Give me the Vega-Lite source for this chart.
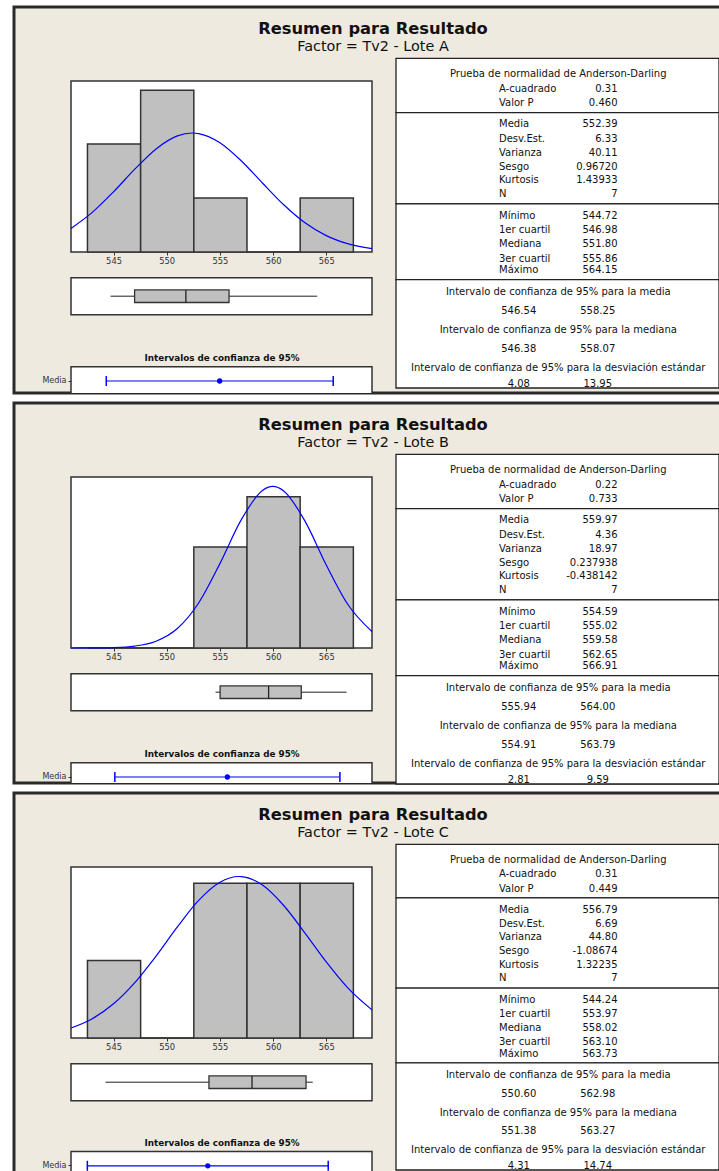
{
  "$schema": "https://vega.github.io/schema/vega-lite/v6.json",
  "description": "Resumen gráfico de Resultado por lote (Factor Tv2): histograma con curva normal ajustada, gráfica de caja, intervalos de confianza de 95% y tabla de estadísticos descriptivos.",
  "background": "white",
  "padding": {"left": 12, "top": 5, "right": 0, "bottom": 0},
  "config": {
    "font": "DejaVu Sans",
    "view": {"fill": "#EEEAE0", "stroke": "#2A2A2A", "strokeWidth": 3}
  },
  "data": {
    "values": [
      {"tipo": "titulo", "lote": "A", "linea": "titulo", "texto": "Resumen para Resultado"},
      {"tipo": "titulo", "lote": "A", "linea": "subtitulo", "texto": "Factor = Tv2 - Lote A"},
      {"tipo": "titulo", "lote": "B", "linea": "titulo", "texto": "Resumen para Resultado"},
      {"tipo": "titulo", "lote": "B", "linea": "subtitulo", "texto": "Factor = Tv2 - Lote B"},
      {"tipo": "titulo", "lote": "C", "linea": "titulo", "texto": "Resumen para Resultado"},
      {"tipo": "titulo", "lote": "C", "linea": "subtitulo", "texto": "Factor = Tv2 - Lote C"},

      {"tipo": "resumen", "lote": "A", "hMin": 541, "hMax": 569.3, "hYMin": 0, "hYMax": 3.17, "min": 544.72, "q1": 546.98, "med": 551.80, "q3": 555.86, "max": 564.15},
      {"tipo": "resumen", "lote": "B", "hMin": 541, "hMax": 569.3, "hYMin": 0, "hYMax": 3.39, "min": 554.59, "q1": 555.02, "med": 559.58, "q3": 562.65, "max": 566.91},
      {"tipo": "resumen", "lote": "C", "hMin": 541, "hMax": 569.3, "hYMin": 0, "hYMax": 2.21, "min": 544.24, "q1": 553.97, "med": 558.02, "q3": 563.10, "max": 563.73},

      {"tipo": "barra", "lote": "A", "desde": 542.5, "hasta": 547.5, "n": 2},
      {"tipo": "barra", "lote": "A", "desde": 547.5, "hasta": 552.5, "n": 3},
      {"tipo": "barra", "lote": "A", "desde": 552.5, "hasta": 557.5, "n": 1},
      {"tipo": "barra", "lote": "A", "desde": 557.5, "hasta": 562.5, "n": 0},
      {"tipo": "barra", "lote": "A", "desde": 562.5, "hasta": 567.5, "n": 1},
      {"tipo": "barra", "lote": "B", "desde": 542.5, "hasta": 547.5, "n": 0},
      {"tipo": "barra", "lote": "B", "desde": 547.5, "hasta": 552.5, "n": 0},
      {"tipo": "barra", "lote": "B", "desde": 552.5, "hasta": 557.5, "n": 2},
      {"tipo": "barra", "lote": "B", "desde": 557.5, "hasta": 562.5, "n": 3},
      {"tipo": "barra", "lote": "B", "desde": 562.5, "hasta": 567.5, "n": 2},
      {"tipo": "barra", "lote": "C", "desde": 542.5, "hasta": 547.5, "n": 1},
      {"tipo": "barra", "lote": "C", "desde": 547.5, "hasta": 552.5, "n": 0},
      {"tipo": "barra", "lote": "C", "desde": 552.5, "hasta": 557.5, "n": 2},
      {"tipo": "barra", "lote": "C", "desde": 557.5, "hasta": 562.5, "n": 2},
      {"tipo": "barra", "lote": "C", "desde": 562.5, "hasta": 567.5, "n": 2},

      {"tipo": "curva", "lote": "A", "xv": 541, "dens": 0.437},
      {"tipo": "curva", "lote": "A", "xv": 543, "dens": 0.734},
      {"tipo": "curva", "lote": "A", "xv": 545, "dens": 1.116},
      {"tipo": "curva", "lote": "A", "xv": 547, "dens": 1.535},
      {"tipo": "curva", "lote": "A", "xv": 549, "dens": 1.911},
      {"tipo": "curva", "lote": "A", "xv": 551, "dens": 2.153},
      {"tipo": "curva", "lote": "A", "xv": 552.39, "dens": 2.206},
      {"tipo": "curva", "lote": "A", "xv": 553, "dens": 2.196},
      {"tipo": "curva", "lote": "A", "xv": 555, "dens": 2.026},
      {"tipo": "curva", "lote": "A", "xv": 557, "dens": 1.692},
      {"tipo": "curva", "lote": "A", "xv": 559, "dens": 1.279},
      {"tipo": "curva", "lote": "A", "xv": 561, "dens": 0.875},
      {"tipo": "curva", "lote": "A", "xv": 563, "dens": 0.541},
      {"tipo": "curva", "lote": "A", "xv": 565, "dens": 0.303},
      {"tipo": "curva", "lote": "A", "xv": 567, "dens": 0.154},
      {"tipo": "curva", "lote": "A", "xv": 569.3, "dens": 0.062},
      {"tipo": "curva", "lote": "B", "xv": 541, "dens": 0.0002},
      {"tipo": "curva", "lote": "B", "xv": 543, "dens": 0.0016},
      {"tipo": "curva", "lote": "B", "xv": 545, "dens": 0.0088},
      {"tipo": "curva", "lote": "B", "xv": 547, "dens": 0.0384},
      {"tipo": "curva", "lote": "B", "xv": 549, "dens": 0.1351},
      {"tipo": "curva", "lote": "B", "xv": 551, "dens": 0.3858},
      {"tipo": "curva", "lote": "B", "xv": 553, "dens": 0.8924},
      {"tipo": "curva", "lote": "B", "xv": 555, "dens": 1.6724},
      {"tipo": "curva", "lote": "B", "xv": 557, "dens": 2.5393},
      {"tipo": "curva", "lote": "B", "xv": 559, "dens": 3.1242},
      {"tipo": "curva", "lote": "B", "xv": 559.97, "dens": 3.2025},
      {"tipo": "curva", "lote": "B", "xv": 561, "dens": 3.1144},
      {"tipo": "curva", "lote": "B", "xv": 563, "dens": 2.5154},
      {"tipo": "curva", "lote": "B", "xv": 565, "dens": 1.6461},
      {"tipo": "curva", "lote": "B", "xv": 567, "dens": 0.8728},
      {"tipo": "curva", "lote": "B", "xv": 569.3, "dens": 0.3244},
      {"tipo": "curva", "lote": "C", "xv": 541, "dens": 0.1288},
      {"tipo": "curva", "lote": "C", "xv": 543, "dens": 0.2494},
      {"tipo": "curva", "lote": "C", "xv": 545, "dens": 0.4417},
      {"tipo": "curva", "lote": "C", "xv": 547, "dens": 0.7154},
      {"tipo": "curva", "lote": "C", "xv": 549, "dens": 1.0596},
      {"tipo": "curva", "lote": "C", "xv": 551, "dens": 1.4352},
      {"tipo": "curva", "lote": "C", "xv": 553, "dens": 1.7778},
      {"tipo": "curva", "lote": "C", "xv": 555, "dens": 2.0138},
      {"tipo": "curva", "lote": "C", "xv": 556.79, "dens": 2.0872},
      {"tipo": "curva", "lote": "C", "xv": 557, "dens": 2.0862},
      {"tipo": "curva", "lote": "C", "xv": 559, "dens": 1.9764},
      {"tipo": "curva", "lote": "C", "xv": 561, "dens": 1.7123},
      {"tipo": "curva", "lote": "C", "xv": 563, "dens": 1.3566},
      {"tipo": "curva", "lote": "C", "xv": 565, "dens": 0.983},
      {"tipo": "curva", "lote": "C", "xv": 567, "dens": 0.6513},
      {"tipo": "curva", "lote": "C", "xv": 569.3, "dens": 0.3633},

      {"tipo": "ic", "lote": "A", "stat": "Media", "lo": 546.54, "centro": 552.39, "hi": 558.25, "ejeMin": 544.72, "ejeMax": 560.25},
      {"tipo": "ic", "lote": "A", "stat": "Mediana", "lo": 546.38, "centro": 551.80, "hi": 558.07, "ejeMin": 544.72, "ejeMax": 560.25},
      {"tipo": "ic", "lote": "B", "stat": "Media", "lo": 555.94, "centro": 559.97, "hi": 564.00, "ejeMin": 554.37, "ejeMax": 565.15},
      {"tipo": "ic", "lote": "B", "stat": "Mediana", "lo": 554.91, "centro": 559.58, "hi": 563.79, "ejeMin": 554.37, "ejeMax": 565.15},
      {"tipo": "ic", "lote": "C", "stat": "Media", "lo": 550.60, "centro": 556.79, "hi": 562.98, "ejeMin": 549.76, "ejeMax": 565.23},
      {"tipo": "ic", "lote": "C", "stat": "Mediana", "lo": 551.38, "centro": 558.02, "hi": 563.27, "ejeMin": 549.76, "ejeMax": 565.23},

      {"tipo": "seccion", "lote": "A", "desde": 0, "hasta": 3.8},
      {"tipo": "seccion", "lote": "A", "desde": 3.8, "hasta": 10.2},
      {"tipo": "seccion", "lote": "A", "desde": 10.2, "hasta": 15.5},
      {"tipo": "seccion", "lote": "A", "desde": 15.5, "hasta": 23.1},
      {"tipo": "seccion", "lote": "B", "desde": 0, "hasta": 3.8},
      {"tipo": "seccion", "lote": "B", "desde": 3.8, "hasta": 10.2},
      {"tipo": "seccion", "lote": "B", "desde": 10.2, "hasta": 15.5},
      {"tipo": "seccion", "lote": "B", "desde": 15.5, "hasta": 23.1},
      {"tipo": "seccion", "lote": "C", "desde": 0, "hasta": 3.8},
      {"tipo": "seccion", "lote": "C", "desde": 3.8, "hasta": 10.2},
      {"tipo": "seccion", "lote": "C", "desde": 10.2, "hasta": 15.5},
      {"tipo": "seccion", "lote": "C", "desde": 15.5, "hasta": 23.1},

      {"tipo": "tabla", "lote": "A", "fila": 1.08, "cabecera": "Prueba de normalidad de Anderson-Darling"},
      {"tipo": "tabla", "lote": "A", "fila": 2.13, "etiqueta": "A-cuadrado", "valor": "0.31"},
      {"tipo": "tabla", "lote": "A", "fila": 3.15, "etiqueta": "Valor P", "valor": "0.460"},
      {"tipo": "tabla", "lote": "A", "fila": 4.63, "etiqueta": "Media", "valor": "552.39"},
      {"tipo": "tabla", "lote": "A", "fila": 5.63, "etiqueta": "Desv.Est.", "valor": "6.33"},
      {"tipo": "tabla", "lote": "A", "fila": 6.61, "etiqueta": "Varianza", "valor": "40.11"},
      {"tipo": "tabla", "lote": "A", "fila": 7.6, "etiqueta": "Sesgo", "valor": "0.96720"},
      {"tipo": "tabla", "lote": "A", "fila": 8.53, "etiqueta": "Kurtosis", "valor": "1.43933"},
      {"tipo": "tabla", "lote": "A", "fila": 9.51, "etiqueta": "N", "valor": "7"},
      {"tipo": "tabla", "lote": "A", "fila": 11.05, "etiqueta": "Mínimo", "valor": "544.72"},
      {"tipo": "tabla", "lote": "A", "fila": 12.03, "etiqueta": "1er cuartil", "valor": "546.98"},
      {"tipo": "tabla", "lote": "A", "fila": 13.01, "etiqueta": "Mediana", "valor": "551.80"},
      {"tipo": "tabla", "lote": "A", "fila": 14.04, "etiqueta": "3er cuartil", "valor": "555.86"},
      {"tipo": "tabla", "lote": "A", "fila": 14.84, "etiqueta": "Máximo", "valor": "564.15"},
      {"tipo": "tabla", "lote": "A", "fila": 16.36, "cabecera": "Intervalo de confianza de 95% para la media"},
      {"tipo": "tabla", "lote": "A", "fila": 17.71, "inf": "546.54", "sup": "558.25"},
      {"tipo": "tabla", "lote": "A", "fila": 19.06, "cabecera": "Intervalo de confianza de 95% para la mediana"},
      {"tipo": "tabla", "lote": "A", "fila": 20.35, "inf": "546.38", "sup": "558.07"},
      {"tipo": "tabla", "lote": "A", "fila": 21.68, "cabecera": "Intervalo de confianza de 95% para la desviación estándar"},
      {"tipo": "tabla", "lote": "A", "fila": 22.82, "inf": "4.08", "sup": "13.95"},

      {"tipo": "tabla", "lote": "B", "fila": 1.08, "cabecera": "Prueba de normalidad de Anderson-Darling"},
      {"tipo": "tabla", "lote": "B", "fila": 2.13, "etiqueta": "A-cuadrado", "valor": "0.22"},
      {"tipo": "tabla", "lote": "B", "fila": 3.15, "etiqueta": "Valor P", "valor": "0.733"},
      {"tipo": "tabla", "lote": "B", "fila": 4.63, "etiqueta": "Media", "valor": "559.97"},
      {"tipo": "tabla", "lote": "B", "fila": 5.63, "etiqueta": "Desv.Est.", "valor": "4.36"},
      {"tipo": "tabla", "lote": "B", "fila": 6.61, "etiqueta": "Varianza", "valor": "18.97"},
      {"tipo": "tabla", "lote": "B", "fila": 7.6, "etiqueta": "Sesgo", "valor": "0.237938"},
      {"tipo": "tabla", "lote": "B", "fila": 8.53, "etiqueta": "Kurtosis", "valor": "-0.438142"},
      {"tipo": "tabla", "lote": "B", "fila": 9.51, "etiqueta": "N", "valor": "7"},
      {"tipo": "tabla", "lote": "B", "fila": 11.05, "etiqueta": "Mínimo", "valor": "554.59"},
      {"tipo": "tabla", "lote": "B", "fila": 12.03, "etiqueta": "1er cuartil", "valor": "555.02"},
      {"tipo": "tabla", "lote": "B", "fila": 13.01, "etiqueta": "Mediana", "valor": "559.58"},
      {"tipo": "tabla", "lote": "B", "fila": 14.04, "etiqueta": "3er cuartil", "valor": "562.65"},
      {"tipo": "tabla", "lote": "B", "fila": 14.84, "etiqueta": "Máximo", "valor": "566.91"},
      {"tipo": "tabla", "lote": "B", "fila": 16.36, "cabecera": "Intervalo de confianza de 95% para la media"},
      {"tipo": "tabla", "lote": "B", "fila": 17.71, "inf": "555.94", "sup": "564.00"},
      {"tipo": "tabla", "lote": "B", "fila": 19.06, "cabecera": "Intervalo de confianza de 95% para la mediana"},
      {"tipo": "tabla", "lote": "B", "fila": 20.35, "inf": "554.91", "sup": "563.79"},
      {"tipo": "tabla", "lote": "B", "fila": 21.68, "cabecera": "Intervalo de confianza de 95% para la desviación estándar"},
      {"tipo": "tabla", "lote": "B", "fila": 22.82, "inf": "2.81", "sup": "9.59"},

      {"tipo": "tabla", "lote": "C", "fila": 1.08, "cabecera": "Prueba de normalidad de Anderson-Darling"},
      {"tipo": "tabla", "lote": "C", "fila": 2.13, "etiqueta": "A-cuadrado", "valor": "0.31"},
      {"tipo": "tabla", "lote": "C", "fila": 3.15, "etiqueta": "Valor P", "valor": "0.449"},
      {"tipo": "tabla", "lote": "C", "fila": 4.63, "etiqueta": "Media", "valor": "556.79"},
      {"tipo": "tabla", "lote": "C", "fila": 5.63, "etiqueta": "Desv.Est.", "valor": "6.69"},
      {"tipo": "tabla", "lote": "C", "fila": 6.61, "etiqueta": "Varianza", "valor": "44.80"},
      {"tipo": "tabla", "lote": "C", "fila": 7.6, "etiqueta": "Sesgo", "valor": "-1.08674"},
      {"tipo": "tabla", "lote": "C", "fila": 8.53, "etiqueta": "Kurtosis", "valor": "1.32235"},
      {"tipo": "tabla", "lote": "C", "fila": 9.51, "etiqueta": "N", "valor": "7"},
      {"tipo": "tabla", "lote": "C", "fila": 11.05, "etiqueta": "Mínimo", "valor": "544.24"},
      {"tipo": "tabla", "lote": "C", "fila": 12.03, "etiqueta": "1er cuartil", "valor": "553.97"},
      {"tipo": "tabla", "lote": "C", "fila": 13.01, "etiqueta": "Mediana", "valor": "558.02"},
      {"tipo": "tabla", "lote": "C", "fila": 14.04, "etiqueta": "3er cuartil", "valor": "563.10"},
      {"tipo": "tabla", "lote": "C", "fila": 14.84, "etiqueta": "Máximo", "valor": "563.73"},
      {"tipo": "tabla", "lote": "C", "fila": 16.36, "cabecera": "Intervalo de confianza de 95% para la media"},
      {"tipo": "tabla", "lote": "C", "fila": 17.71, "inf": "550.60", "sup": "562.98"},
      {"tipo": "tabla", "lote": "C", "fila": 19.06, "cabecera": "Intervalo de confianza de 95% para la mediana"},
      {"tipo": "tabla", "lote": "C", "fila": 20.35, "inf": "551.38", "sup": "563.27"},
      {"tipo": "tabla", "lote": "C", "fila": 21.68, "cabecera": "Intervalo de confianza de 95% para la desviación estándar"},
      {"tipo": "tabla", "lote": "C", "fila": 22.82, "inf": "4.31", "sup": "14.74"}
    ]
  },
  "bounds": "flush",
  "spacing": 10,
  "vconcat": [
    {
      "width": 712,
      "height": 386,
      "transform": [{"filter": "datum.lote === 'A'"}],
      "resolve": {"scale": {"x": "independent", "y": "independent"}},
      "layer": [
        {
          "transform": [{"filter": "datum.tipo === 'titulo'"}],
          "encoding": {
            "x": {"field": "lote", "type": "nominal", "scale": {"type": "point", "range": [0, 718]}, "axis": null},
            "y": {"field": "linea", "type": "nominal", "scale": {"type": "point", "domain": ["titulo", "subtitulo"], "range": [22, 39.5], "padding": 0}, "axis": null},
            "text": {"field": "texto", "type": "nominal"}
          },
          "layer": [
            {"transform": [{"filter": "datum.linea === 'titulo'"}], "mark": {"type": "text", "fontSize": 16.3, "fontWeight": "bold", "color": "#111111"}},
            {"transform": [{"filter": "datum.linea === 'subtitulo'"}], "mark": {"type": "text", "fontSize": 14.4, "color": "#111111"}}
          ]
        },
        {
          "layer": [
            {
              "transform": [{"filter": "datum.tipo === 'resumen'"}],
              "mark": {"type": "rect", "fill": "white", "stroke": "#333333", "strokeWidth": 1.5},
              "encoding": {
                "x": {"field": "hMin", "type": "quantitative", "scale": {"domain": [541, 569.3], "range": [57, 358], "nice": false, "zero": false},
                      "axis": {"orient": "bottom", "offset": -141, "values": [545, 550, 555, 560, 565], "domain": false, "grid": false, "ticks": true, "tickSize": 3, "tickColor": "#333333", "labels": true, "labelFontSize": 8.3, "labelColor": "#333333", "labelPadding": 1, "title": null}},
                "x2": {"field": "hMax"},
                "y": {"field": "hYMin", "type": "quantitative", "scale": {"range": [245, 74], "nice": false, "zero": true}, "axis": null},
                "y2": {"field": "hYMax"}
              }
            },
            {
              "transform": [{"filter": "datum.tipo === 'barra'"}],
              "mark": {"type": "bar", "fill": "#C0C0C0", "stroke": "#333333", "strokeWidth": 1.5, "binSpacing": 0},
              "encoding": {
                "x": {"field": "desde", "type": "quantitative", "bin": "binned"},
                "x2": {"field": "hasta"},
                "y": {"field": "n", "type": "quantitative", "axis": null}
              }
            },
            {
              "transform": [{"filter": "datum.tipo === 'curva'"}],
              "mark": {"type": "line", "color": "#0000FF", "strokeWidth": 1.2, "interpolate": "monotone"},
              "encoding": {
                "x": {"field": "xv", "type": "quantitative"},
                "y": {"field": "dens", "type": "quantitative", "axis": null}
              }
            }
          ]
        },
        {
          "transform": [{"filter": "datum.tipo === 'resumen'"}],
          "encoding": {
            "y": {"field": "tipo", "type": "nominal", "scale": {"type": "band", "domain": ["resumen"], "range": [270.7, 307.7], "paddingInner": 0, "paddingOuter": 0}, "axis": null}
          },
          "layer": [
            {
              "mark": {"type": "rect", "fill": "white", "stroke": "#333333", "strokeWidth": 1.5},
              "encoding": {
                "x": {"field": "hMin", "type": "quantitative", "scale": {"domain": [541, 569.3], "range": [57, 358], "nice": false, "zero": false}, "axis": null},
                "x2": {"field": "hMax"}
              }
            },
            {
              "mark": {"type": "rule", "color": "#222222", "strokeWidth": 1},
              "encoding": {"x": {"field": "min", "type": "quantitative", "axis": null}, "x2": {"field": "max"}}
            },
            {
              "mark": {"type": "bar", "fill": "#C0C0C0", "stroke": "#333333", "strokeWidth": 1.3, "height": {"band": 0.34}},
              "encoding": {"x": {"field": "q1", "type": "quantitative", "axis": null}, "x2": {"field": "q3"}}
            },
            {
              "mark": {"type": "tick", "color": "#222222", "size": 12.6, "thickness": 1.3, "opacity": 1},
              "encoding": {"x": {"field": "med", "type": "quantitative", "axis": null}}
            }
          ]
        },
        {
          "transform": [{"filter": "datum.tipo === 'ic'"}],
          "encoding": {
            "y": {"field": "stat", "type": "nominal", "scale": {"type": "band", "domain": ["Media", "Mediana"], "range": [359.7, 416.9], "paddingInner": 0, "paddingOuter": 0}}
          },
          "layer": [
            {
              "transform": [{"filter": "datum.stat === 'Media'"}],
              "mark": {"type": "rect", "fill": "white", "stroke": "#333333", "strokeWidth": 1.5, "clip": true},
              "encoding": {
                "x": {"field": "ejeMin", "type": "quantitative", "scale": {"range": [57, 358], "nice": false, "zero": false},
                      "axis": {"orient": "top", "offset": -359.7, "labels": false, "ticks": false, "domain": false, "grid": false, "title": "Intervalos de confianza de 95%", "titleFontSize": 8.8, "titleFontWeight": "bold", "titleColor": "#111111", "titlePadding": 4}},
                "x2": {"field": "ejeMax"},
                "y": {"field": "stat", "type": "nominal",
                      "axis": {"orient": "left", "offset": -57, "values": ["Media"], "domain": false, "grid": false, "ticks": true, "tickSize": 3, "tickColor": "#333333", "labels": true, "labelFontSize": 8, "labelColor": "#333333", "labelPadding": 2, "title": null}}
              }
            },
            {
              "mark": {"type": "rule", "color": "#0000FF", "strokeWidth": 1.2, "clip": true},
              "encoding": {"x": {"field": "lo", "type": "quantitative"}, "x2": {"field": "hi"}}
            },
            {
              "mark": {"type": "tick", "color": "#0000FF", "size": 10, "thickness": 1.5, "opacity": 1, "clip": true},
              "encoding": {"x": {"field": "lo", "type": "quantitative"}}
            },
            {
              "mark": {"type": "tick", "color": "#0000FF", "size": 10, "thickness": 1.5, "opacity": 1, "clip": true},
              "encoding": {"x": {"field": "hi", "type": "quantitative"}}
            },
            {
              "mark": {"type": "point", "filled": true, "color": "#0000FF", "size": 28, "opacity": 1, "clip": true},
              "encoding": {"x": {"field": "centro", "type": "quantitative"}}
            }
          ]
        },
        {
          "transform": [{"filter": "datum.tipo === 'seccion'"}],
          "mark": {"type": "rect", "fill": "white", "stroke": "#222222", "strokeWidth": 1.3},
          "encoding": {
            "x": {"field": "tipo", "type": "nominal", "scale": {"type": "band", "domain": ["seccion"], "range": [382, 705], "paddingInner": 0, "paddingOuter": 0}, "axis": null},
            "y": {"field": "desde", "type": "quantitative", "scale": {"domain": [0, 23.1], "range": [51.3, 381], "nice": false, "zero": false}, "axis": null},
            "y2": {"field": "hasta"}
          }
        },
        {
          "transform": [
            {"filter": "datum.tipo === 'tabla'"},
            {"fold": ["etiqueta", "valor", "cabecera", "inf", "sup"], "as": ["columna", "celda"]},
            {"filter": "isValid(datum.celda)"}
          ],
          "encoding": {
            "x": {"field": "columna", "type": "nominal", "scale": {"type": "point", "domain": ["etiqueta", "inf", "h1", "cabecera", "h2", "sup", "valor"], "range": [485, 603.5], "padding": 0}, "axis": null},
            "y": {"field": "fila", "type": "quantitative", "scale": {"domain": [0, 23.1], "range": [51.3, 381], "nice": false, "zero": false}, "axis": null},
            "text": {"field": "celda", "type": "nominal"}
          },
          "layer": [
            {"transform": [{"filter": "datum.columna === 'etiqueta'"}], "mark": {"type": "text", "align": "left", "fontSize": 10, "color": "#111111"}},
            {"transform": [{"filter": "datum.columna === 'valor'"}], "mark": {"type": "text", "align": "right", "fontSize": 10, "color": "#111111"}},
            {"transform": [{"filter": "datum.columna !== 'etiqueta' && datum.columna !== 'valor'"}], "mark": {"type": "text", "align": "center", "fontSize": 10, "color": "#111111"}}
          ]
        }
      ]
    },
    {
      "width": 712,
      "height": 380,
      "transform": [{"filter": "datum.lote === 'B'"}],
      "resolve": {"scale": {"x": "independent", "y": "independent"}},
      "layer": [
        {
          "transform": [{"filter": "datum.tipo === 'titulo'"}],
          "encoding": {
            "x": {"field": "lote", "type": "nominal", "scale": {"type": "point", "range": [0, 718]}, "axis": null},
            "y": {"field": "linea", "type": "nominal", "scale": {"type": "point", "domain": ["titulo", "subtitulo"], "range": [22, 39.5], "padding": 0}, "axis": null},
            "text": {"field": "texto", "type": "nominal"}
          },
          "layer": [
            {"transform": [{"filter": "datum.linea === 'titulo'"}], "mark": {"type": "text", "fontSize": 16.3, "fontWeight": "bold", "color": "#111111"}},
            {"transform": [{"filter": "datum.linea === 'subtitulo'"}], "mark": {"type": "text", "fontSize": 14.4, "color": "#111111"}}
          ]
        },
        {
          "layer": [
            {
              "transform": [{"filter": "datum.tipo === 'resumen'"}],
              "mark": {"type": "rect", "fill": "white", "stroke": "#333333", "strokeWidth": 1.5},
              "encoding": {
                "x": {"field": "hMin", "type": "quantitative", "scale": {"domain": [541, 569.3], "range": [57, 358], "nice": false, "zero": false},
                      "axis": {"orient": "bottom", "offset": -135, "values": [545, 550, 555, 560, 565], "domain": false, "grid": false, "ticks": true, "tickSize": 3, "tickColor": "#333333", "labels": true, "labelFontSize": 8.3, "labelColor": "#333333", "labelPadding": 1, "title": null}},
                "x2": {"field": "hMax"},
                "y": {"field": "hYMin", "type": "quantitative", "scale": {"range": [245, 74], "nice": false, "zero": true}, "axis": null},
                "y2": {"field": "hYMax"}
              }
            },
            {
              "transform": [{"filter": "datum.tipo === 'barra'"}],
              "mark": {"type": "bar", "fill": "#C0C0C0", "stroke": "#333333", "strokeWidth": 1.5, "binSpacing": 0},
              "encoding": {
                "x": {"field": "desde", "type": "quantitative", "bin": "binned"},
                "x2": {"field": "hasta"},
                "y": {"field": "n", "type": "quantitative", "axis": null}
              }
            },
            {
              "transform": [{"filter": "datum.tipo === 'curva'"}],
              "mark": {"type": "line", "color": "#0000FF", "strokeWidth": 1.2, "interpolate": "monotone"},
              "encoding": {
                "x": {"field": "xv", "type": "quantitative"},
                "y": {"field": "dens", "type": "quantitative", "axis": null}
              }
            }
          ]
        },
        {
          "transform": [{"filter": "datum.tipo === 'resumen'"}],
          "encoding": {
            "y": {"field": "tipo", "type": "nominal", "scale": {"type": "band", "domain": ["resumen"], "range": [270.7, 307.7], "paddingInner": 0, "paddingOuter": 0}, "axis": null}
          },
          "layer": [
            {
              "mark": {"type": "rect", "fill": "white", "stroke": "#333333", "strokeWidth": 1.5},
              "encoding": {
                "x": {"field": "hMin", "type": "quantitative", "scale": {"domain": [541, 569.3], "range": [57, 358], "nice": false, "zero": false}, "axis": null},
                "x2": {"field": "hMax"}
              }
            },
            {
              "mark": {"type": "rule", "color": "#222222", "strokeWidth": 1},
              "encoding": {"x": {"field": "min", "type": "quantitative", "axis": null}, "x2": {"field": "max"}}
            },
            {
              "mark": {"type": "bar", "fill": "#C0C0C0", "stroke": "#333333", "strokeWidth": 1.3, "height": {"band": 0.34}},
              "encoding": {"x": {"field": "q1", "type": "quantitative", "axis": null}, "x2": {"field": "q3"}}
            },
            {
              "mark": {"type": "tick", "color": "#222222", "size": 12.6, "thickness": 1.3, "opacity": 1},
              "encoding": {"x": {"field": "med", "type": "quantitative", "axis": null}}
            }
          ]
        },
        {
          "transform": [{"filter": "datum.tipo === 'ic'"}],
          "encoding": {
            "y": {"field": "stat", "type": "nominal", "scale": {"type": "band", "domain": ["Media", "Mediana"], "range": [359.7, 416.9], "paddingInner": 0, "paddingOuter": 0}}
          },
          "layer": [
            {
              "transform": [{"filter": "datum.stat === 'Media'"}],
              "mark": {"type": "rect", "fill": "white", "stroke": "#333333", "strokeWidth": 1.5, "clip": true},
              "encoding": {
                "x": {"field": "ejeMin", "type": "quantitative", "scale": {"range": [57, 358], "nice": false, "zero": false},
                      "axis": {"orient": "top", "offset": -359.7, "labels": false, "ticks": false, "domain": false, "grid": false, "title": "Intervalos de confianza de 95%", "titleFontSize": 8.8, "titleFontWeight": "bold", "titleColor": "#111111", "titlePadding": 4}},
                "x2": {"field": "ejeMax"},
                "y": {"field": "stat", "type": "nominal",
                      "axis": {"orient": "left", "offset": -57, "values": ["Media"], "domain": false, "grid": false, "ticks": true, "tickSize": 3, "tickColor": "#333333", "labels": true, "labelFontSize": 8, "labelColor": "#333333", "labelPadding": 2, "title": null}}
              }
            },
            {
              "mark": {"type": "rule", "color": "#0000FF", "strokeWidth": 1.2, "clip": true},
              "encoding": {"x": {"field": "lo", "type": "quantitative"}, "x2": {"field": "hi"}}
            },
            {
              "mark": {"type": "tick", "color": "#0000FF", "size": 10, "thickness": 1.5, "opacity": 1, "clip": true},
              "encoding": {"x": {"field": "lo", "type": "quantitative"}}
            },
            {
              "mark": {"type": "tick", "color": "#0000FF", "size": 10, "thickness": 1.5, "opacity": 1, "clip": true},
              "encoding": {"x": {"field": "hi", "type": "quantitative"}}
            },
            {
              "mark": {"type": "point", "filled": true, "color": "#0000FF", "size": 28, "opacity": 1, "clip": true},
              "encoding": {"x": {"field": "centro", "type": "quantitative"}}
            }
          ]
        },
        {
          "transform": [{"filter": "datum.tipo === 'seccion'"}],
          "mark": {"type": "rect", "fill": "white", "stroke": "#222222", "strokeWidth": 1.3},
          "encoding": {
            "x": {"field": "tipo", "type": "nominal", "scale": {"type": "band", "domain": ["seccion"], "range": [382, 705], "paddingInner": 0, "paddingOuter": 0}, "axis": null},
            "y": {"field": "desde", "type": "quantitative", "scale": {"domain": [0, 23.1], "range": [51.3, 381], "nice": false, "zero": false}, "axis": null},
            "y2": {"field": "hasta"}
          }
        },
        {
          "transform": [
            {"filter": "datum.tipo === 'tabla'"},
            {"fold": ["etiqueta", "valor", "cabecera", "inf", "sup"], "as": ["columna", "celda"]},
            {"filter": "isValid(datum.celda)"}
          ],
          "encoding": {
            "x": {"field": "columna", "type": "nominal", "scale": {"type": "point", "domain": ["etiqueta", "inf", "h1", "cabecera", "h2", "sup", "valor"], "range": [485, 603.5], "padding": 0}, "axis": null},
            "y": {"field": "fila", "type": "quantitative", "scale": {"domain": [0, 23.1], "range": [51.3, 381], "nice": false, "zero": false}, "axis": null},
            "text": {"field": "celda", "type": "nominal"}
          },
          "layer": [
            {"transform": [{"filter": "datum.columna === 'etiqueta'"}], "mark": {"type": "text", "align": "left", "fontSize": 10, "color": "#111111"}},
            {"transform": [{"filter": "datum.columna === 'valor'"}], "mark": {"type": "text", "align": "right", "fontSize": 10, "color": "#111111"}},
            {"transform": [{"filter": "datum.columna !== 'etiqueta' && datum.columna !== 'valor'"}], "mark": {"type": "text", "align": "center", "fontSize": 10, "color": "#111111"}}
          ]
        }
      ]
    },
    {
      "width": 712,
      "height": 384,
      "transform": [{"filter": "datum.lote === 'C'"}],
      "resolve": {"scale": {"x": "independent", "y": "independent"}},
      "layer": [
        {
          "transform": [{"filter": "datum.tipo === 'titulo'"}],
          "encoding": {
            "x": {"field": "lote", "type": "nominal", "scale": {"type": "point", "range": [0, 718]}, "axis": null},
            "y": {"field": "linea", "type": "nominal", "scale": {"type": "point", "domain": ["titulo", "subtitulo"], "range": [22, 39.5], "padding": 0}, "axis": null},
            "text": {"field": "texto", "type": "nominal"}
          },
          "layer": [
            {"transform": [{"filter": "datum.linea === 'titulo'"}], "mark": {"type": "text", "fontSize": 16.3, "fontWeight": "bold", "color": "#111111"}},
            {"transform": [{"filter": "datum.linea === 'subtitulo'"}], "mark": {"type": "text", "fontSize": 14.4, "color": "#111111"}}
          ]
        },
        {
          "layer": [
            {
              "transform": [{"filter": "datum.tipo === 'resumen'"}],
              "mark": {"type": "rect", "fill": "white", "stroke": "#333333", "strokeWidth": 1.5},
              "encoding": {
                "x": {"field": "hMin", "type": "quantitative", "scale": {"domain": [541, 569.3], "range": [57, 358], "nice": false, "zero": false},
                      "axis": {"orient": "bottom", "offset": -139, "values": [545, 550, 555, 560, 565], "domain": false, "grid": false, "ticks": true, "tickSize": 3, "tickColor": "#333333", "labels": true, "labelFontSize": 8.3, "labelColor": "#333333", "labelPadding": 1, "title": null}},
                "x2": {"field": "hMax"},
                "y": {"field": "hYMin", "type": "quantitative", "scale": {"range": [245, 74], "nice": false, "zero": true}, "axis": null},
                "y2": {"field": "hYMax"}
              }
            },
            {
              "transform": [{"filter": "datum.tipo === 'barra'"}],
              "mark": {"type": "bar", "fill": "#C0C0C0", "stroke": "#333333", "strokeWidth": 1.5, "binSpacing": 0},
              "encoding": {
                "x": {"field": "desde", "type": "quantitative", "bin": "binned"},
                "x2": {"field": "hasta"},
                "y": {"field": "n", "type": "quantitative", "axis": null}
              }
            },
            {
              "transform": [{"filter": "datum.tipo === 'curva'"}],
              "mark": {"type": "line", "color": "#0000FF", "strokeWidth": 1.2, "interpolate": "monotone"},
              "encoding": {
                "x": {"field": "xv", "type": "quantitative"},
                "y": {"field": "dens", "type": "quantitative", "axis": null}
              }
            }
          ]
        },
        {
          "transform": [{"filter": "datum.tipo === 'resumen'"}],
          "encoding": {
            "y": {"field": "tipo", "type": "nominal", "scale": {"type": "band", "domain": ["resumen"], "range": [270.7, 307.7], "paddingInner": 0, "paddingOuter": 0}, "axis": null}
          },
          "layer": [
            {
              "mark": {"type": "rect", "fill": "white", "stroke": "#333333", "strokeWidth": 1.5},
              "encoding": {
                "x": {"field": "hMin", "type": "quantitative", "scale": {"domain": [541, 569.3], "range": [57, 358], "nice": false, "zero": false}, "axis": null},
                "x2": {"field": "hMax"}
              }
            },
            {
              "mark": {"type": "rule", "color": "#222222", "strokeWidth": 1},
              "encoding": {"x": {"field": "min", "type": "quantitative", "axis": null}, "x2": {"field": "max"}}
            },
            {
              "mark": {"type": "bar", "fill": "#C0C0C0", "stroke": "#333333", "strokeWidth": 1.3, "height": {"band": 0.34}},
              "encoding": {"x": {"field": "q1", "type": "quantitative", "axis": null}, "x2": {"field": "q3"}}
            },
            {
              "mark": {"type": "tick", "color": "#222222", "size": 12.6, "thickness": 1.3, "opacity": 1},
              "encoding": {"x": {"field": "med", "type": "quantitative", "axis": null}}
            }
          ]
        },
        {
          "transform": [{"filter": "datum.tipo === 'ic'"}],
          "encoding": {
            "y": {"field": "stat", "type": "nominal", "scale": {"type": "band", "domain": ["Media", "Mediana"], "range": [358.5, 415.7], "paddingInner": 0, "paddingOuter": 0}}
          },
          "layer": [
            {
              "transform": [{"filter": "datum.stat === 'Media'"}],
              "mark": {"type": "rect", "fill": "white", "stroke": "#333333", "strokeWidth": 1.5, "clip": true},
              "encoding": {
                "x": {"field": "ejeMin", "type": "quantitative", "scale": {"range": [57, 358], "nice": false, "zero": false},
                      "axis": {"orient": "top", "offset": -358.5, "labels": false, "ticks": false, "domain": false, "grid": false, "title": "Intervalos de confianza de 95%", "titleFontSize": 8.8, "titleFontWeight": "bold", "titleColor": "#111111", "titlePadding": 4}},
                "x2": {"field": "ejeMax"},
                "y": {"field": "stat", "type": "nominal",
                      "axis": {"orient": "left", "offset": -57, "values": ["Media"], "domain": false, "grid": false, "ticks": true, "tickSize": 3, "tickColor": "#333333", "labels": true, "labelFontSize": 8, "labelColor": "#333333", "labelPadding": 2, "title": null}}
              }
            },
            {
              "mark": {"type": "rule", "color": "#0000FF", "strokeWidth": 1.2, "clip": true},
              "encoding": {"x": {"field": "lo", "type": "quantitative"}, "x2": {"field": "hi"}}
            },
            {
              "mark": {"type": "tick", "color": "#0000FF", "size": 10, "thickness": 1.5, "opacity": 1, "clip": true},
              "encoding": {"x": {"field": "lo", "type": "quantitative"}}
            },
            {
              "mark": {"type": "tick", "color": "#0000FF", "size": 10, "thickness": 1.5, "opacity": 1, "clip": true},
              "encoding": {"x": {"field": "hi", "type": "quantitative"}}
            },
            {
              "mark": {"type": "point", "filled": true, "color": "#0000FF", "size": 28, "opacity": 1, "clip": true},
              "encoding": {"x": {"field": "centro", "type": "quantitative"}}
            }
          ]
        },
        {
          "transform": [{"filter": "datum.tipo === 'seccion'"}],
          "mark": {"type": "rect", "fill": "white", "stroke": "#222222", "strokeWidth": 1.3},
          "encoding": {
            "x": {"field": "tipo", "type": "nominal", "scale": {"type": "band", "domain": ["seccion"], "range": [382, 705], "paddingInner": 0, "paddingOuter": 0}, "axis": null},
            "y": {"field": "desde", "type": "quantitative", "scale": {"domain": [0, 23.1], "range": [51.3, 377], "nice": false, "zero": false}, "axis": null},
            "y2": {"field": "hasta"}
          }
        },
        {
          "transform": [
            {"filter": "datum.tipo === 'tabla'"},
            {"fold": ["etiqueta", "valor", "cabecera", "inf", "sup"], "as": ["columna", "celda"]},
            {"filter": "isValid(datum.celda)"}
          ],
          "encoding": {
            "x": {"field": "columna", "type": "nominal", "scale": {"type": "point", "domain": ["etiqueta", "inf", "h1", "cabecera", "h2", "sup", "valor"], "range": [485, 603.5], "padding": 0}, "axis": null},
            "y": {"field": "fila", "type": "quantitative", "scale": {"domain": [0, 23.1], "range": [51.3, 377], "nice": false, "zero": false}, "axis": null},
            "text": {"field": "celda", "type": "nominal"}
          },
          "layer": [
            {"transform": [{"filter": "datum.columna === 'etiqueta'"}], "mark": {"type": "text", "align": "left", "fontSize": 10, "color": "#111111"}},
            {"transform": [{"filter": "datum.columna === 'valor'"}], "mark": {"type": "text", "align": "right", "fontSize": 10, "color": "#111111"}},
            {"transform": [{"filter": "datum.columna !== 'etiqueta' && datum.columna !== 'valor'"}], "mark": {"type": "text", "align": "center", "fontSize": 10, "color": "#111111"}}
          ]
        }
      ]
    }
  ]
}
